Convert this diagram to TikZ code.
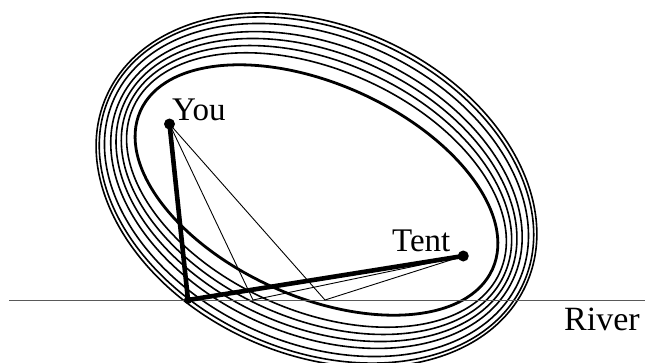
\documentclass[tikz,border=0pt]{standalone}
\usepackage{fontspec}
\setmainfont{Liberation Serif}
\begin{document}
\begin{tikzpicture}[x=1pt,y=1pt,
  ell/.style={line width=1.6pt},
  thickpath/.style={line width=4.6pt, line join=round, line cap=round},
  thinpath/.style={line width=0.9pt},
  riverline/.style={line width=1.3pt, draw=black!65},
  dot/.style={circle, fill=black, inner sep=0pt, minimum size=11pt},
  lbl/.style={inner sep=0pt, font=\fontsize{33}{33}\selectfont}]
\useasboundingbox (0,0) rectangle (645,362);
\clip (0,0) rectangle (645,362);
\coordinate (C) at (316.5,172);
% confocal ellipses
\begin{scope}[rotate around={-24.2:(C)}]
  \draw[line width=2.8pt] (C) ellipse[x radius=193pt, y radius=106.4pt];
  \draw[ell] (C) ellipse[x radius=201pt, y radius=120.3pt];
  \draw[ell] (C) ellipse[x radius=206pt, y radius=128.5pt];
  \draw[ell] (C) ellipse[x radius=211pt, y radius=136.4pt];
  \draw[ell] (C) ellipse[x radius=216pt, y radius=144.0pt];
  \draw[ell] (C) ellipse[x radius=222pt, y radius=152.9pt];
  \draw[ell] (C) ellipse[x radius=227pt, y radius=160.0pt];
  \draw[ell] (C) ellipse[x radius=230pt, y radius=164.3pt];
\end{scope}
% river
\coordinate (RL) at (9,61.5);
\coordinate (RR) at (645,61.5);
\draw[riverline] (RL) -- (RR);
% points
\coordinate (You) at (169.5,238);
\coordinate (Tent) at (463.3,106);
\coordinate (R) at (188,62);
\coordinate (P1) at (253,62);
\coordinate (P2) at (325,62);
% thin paths
\draw[thinpath] (You) -- (P1) -- (Tent);
\draw[thinpath] (You) -- (P2) -- (Tent);
% thick path
\draw[thickpath] (You) -- (R) -- (Tent);
\node[dot] (youdot) at (You) {};
\node[dot] (tentdot) at (Tent) {};
\node[dot, minimum size=8pt] (rdot) at (R) {};
% labels
\node[lbl, anchor=base west] (youlbl) at (172,241) {You};
\node[lbl, anchor=base west] (tentlbl) at (392,111) {Tent};
\node[lbl, anchor=base west, font=\fontsize{34}{34}\selectfont] (riverlbl) at (564,32) {River};
\end{tikzpicture}
\end{document}
